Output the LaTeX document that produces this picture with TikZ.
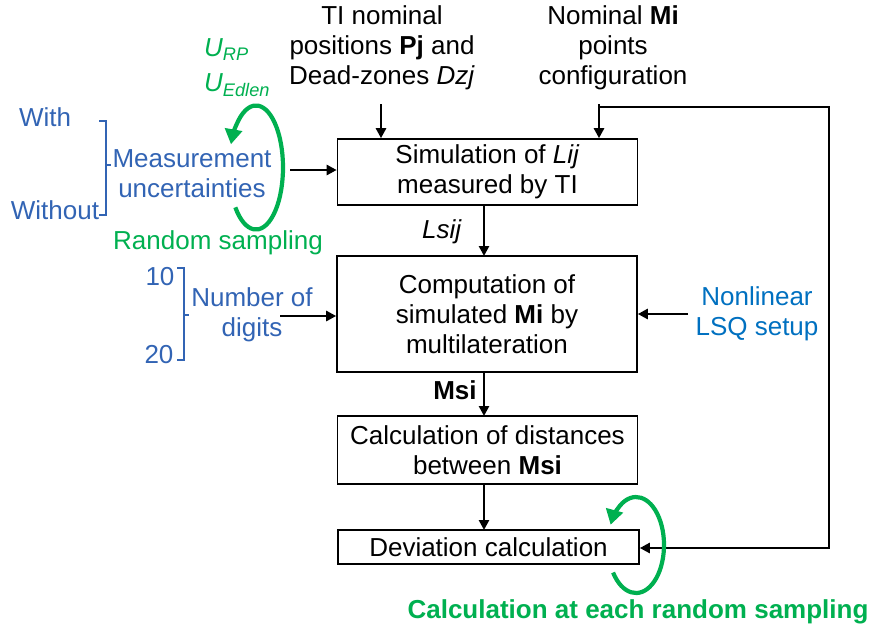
\documentclass[tikz,border=0pt]{standalone}
\usepackage{fontspec}
\setmainfont{Liberation Sans}
\usetikzlibrary{arrows.meta}
\definecolor{lblue}{RGB}{50,100,180}
\definecolor{nblue}{RGB}{0,112,192}
\definecolor{xgreen}{RGB}{0,176,80}
\tikzset{
  box/.style={draw=black, line width=1.6pt, minimum width=300pt, align=center, inner sep=0pt},
  txt/.style={align=center, inner sep=0pt, font=\fontsize{26}{30}\selectfont},
  conn/.style={line width=2.8pt, -{Triangle[length=10pt,width=10pt]}},
  garc/.style={xgreen, line width=4.2pt, -{Triangle[length=15pt,width=17pt]}},
  brk/.style={lblue, line width=2.6pt}
}
\begin{document}
\begin{tikzpicture}[x=1pt,y=-1pt]
\useasboundingbox (0,0) rectangle (874,635);
% boxes
\node[box, txt, minimum height=66pt] (b1) at (487.5,172) {Simulation of \textit{Lij}\\measured by TI};
\node[box, txt, minimum height=116pt] (b2) at (487,314) {Computation of\\simulated \textbf{Mi} by\\multilateration};
\node[box, txt, minimum height=68pt] (b3) at (487.5,450) {Calculation of distances\\between \textbf{Msi}};
\node[box, txt, minimum height=34pt, minimum width=301pt] (b4) at (488.5,547) {Deviation calculation};
% top inputs
\node[txt] (ti) at (382,48) {TI nominal\\positions \textbf{Pj} and\\Dead-zones \textit{Dzj}};
\node[txt] (nm) at (613,48) {Nominal \textbf{Mi}\\points\\configuration};
\coordinate (tia) at (381,104);
\coordinate (nma) at (599,104);
\draw[conn] (tia) -- (tia |- b1.north);
\draw[conn] (nma) -- (nma |- b1.north);
% feedback
\coordinate (fb1) at (599,107);
\coordinate (fb2) at (829,107);
\coordinate (fb3) at (829,548);
\draw[conn] (fb1) -- (fb2) -- (fb3) -- (b4.east |- fb3);
% vertical flow
\draw[conn] (484,205) -- (484,256);
\node[txt] (lsij) at (442,232) {\textit{Lsij}};
\draw[conn] (484,372) -- (484,416);
\node[txt] (msi) at (455,390) {\textbf{Msi}};
\draw[conn] (484,484) -- (484,530);
% left: measurement uncertainties
\node[txt, text=lblue] (with) at (45,117) {With};
\node[txt, text=lblue] (without) at (55,210) {Without};
\node[txt, text=lblue] (mu) at (192,174) {Measurement\\uncertainties};
\draw[brk] (99,121) -- (106,121) -- (106,215) -- (99,215);
\draw[brk] (106,165) -- (111,165);
\coordinate (mua) at (290,170);
\draw[conn] (mua) -- (b1.west |- mua);
% green loop left
\node[txt, text=xgreen, anchor=west] (urp) at (204,50) {\textit{U\textsubscript{RP}}};
\node[txt, text=xgreen, anchor=west] (ued) at (204,85) {\textit{U\textsubscript{Edlen}}};
\node[txt, text=xgreen] (rs) at (218,243) {Random sampling};
\draw[garc] (256,167.5) ++(-140:27pt and 62pt) arc[start angle=-140, end angle=158, x radius=27pt, y radius=62pt];
% number of digits
\node[txt, text=lblue] (n10) at (160,277) {10};
\node[txt, text=lblue] (n20) at (159,355) {20};
\node[txt, text=lblue] (nd) at (252,315) {Number of\\digits};
\draw[brk] (177,268) -- (184,268) -- (184,360) -- (177,360);
\draw[brk] (184,315) -- (189,315);
\coordinate (nda) at (280,316);
\draw[conn] (nda) -- (b2.west |- nda);
% nonlinear LSQ
\node[txt, text=nblue] (lsq) at (757,314) {Nonlinear\\LSQ setup};
\coordinate (lsqa) at (688,314);
\draw[conn] (lsqa) -- (b2.east |- lsqa);
% green loop right
\draw[garc] (636,545) ++(-145:28pt and 48pt) arc[start angle=-145, end angle=155, x radius=28pt, y radius=48pt];
\node[txt, text=xgreen, font=\fontsize{26}{30}\selectfont\bfseries] (cal) at (638,612) {Calculation at each random sampling};
\end{tikzpicture}
\end{document}
